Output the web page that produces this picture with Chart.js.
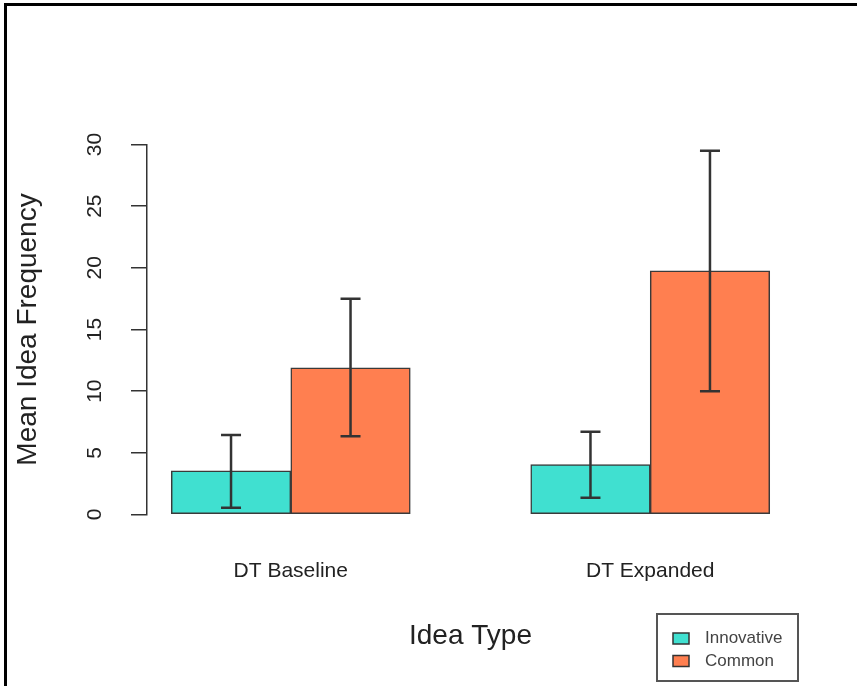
<!DOCTYPE html>
<html>
<head>
<meta charset="utf-8">
<title>Mean Idea Frequency</title>
<script src="https://cdn.jsdelivr.net/npm/chart.js@4.4.1/dist/chart.umd.min.js"></script>
<style>
  html, body { margin: 0; padding: 0; background: #fff; }
  #wrap { position: relative; width: 857px; height: 686px; overflow: hidden; }
  #frame { position: absolute; left: 4px; top: 3px; right: 0; bottom: 0;
           border-left: 3px solid #000; border-top: 3px solid #000; pointer-events: none; }
  canvas { position: absolute; left: 0; top: 0; }
</style>
</head>
<body>
<div id="wrap">
  <canvas id="chart" width="857" height="686"></canvas>
  <div id="frame"></div>
</div>
<script>
    // data
    var categories = ['DT Baseline', 'DT Expanded'];
    var seriesNames = ['Innovative', 'Common'];
    var innovative = [3.55, 4.05];
    var common = [11.9, 19.75];
    var innovativeLow = [0.55, 1.35];
    var innovativeHigh = [6.45, 6.7];
    var commonLow = [6.35, 10.0];
    var commonHigh = [17.5, 29.5];
    var yTicks = [0, 5, 10, 15, 20, 25, 30];

    var FONT = "'Liberation Sans', Arial, Helvetica, sans-serif";
    var colors = ['#40E0D0', '#FF7F50'];
    var errLow = [innovativeLow, commonLow];
    var errHigh = [innovativeHigh, commonHigh];

    function toPoints(values) {
        return values.map(function (v, i) { return { x: i, y: v }; });
    }

    // error bars drawn on top of the bars
    var errorBars = {
        id: 'errorBars',
        afterDatasetsDraw: function (chart) {
            var ctx = chart.ctx, yScale = chart.scales.y;
            ctx.save();
            ctx.strokeStyle = '#333';
            ctx.lineWidth = 2.5;
            chart.data.datasets.forEach(function (ds, di) {
                chart.getDatasetMeta(di).data.forEach(function (bar, i) {
                    var x = bar.x;
                    var y1 = yScale.getPixelForValue(errLow[di][i]);
                    var y2 = yScale.getPixelForValue(errHigh[di][i]);
                    ctx.beginPath();
                    ctx.moveTo(x, y1); ctx.lineTo(x, y2);
                    ctx.moveTo(x - 10, y1); ctx.lineTo(x + 10, y1);
                    ctx.moveTo(x - 10, y2); ctx.lineTo(x + 10, y2);
                    ctx.stroke();
                });
            });
            ctx.restore();
        }
    };

    // R style y tick labels, parallel to the axis
    var rotatedTicks = {
        id: 'rotatedTicks',
        afterDraw: function (chart) {
            var ctx = chart.ctx, y = chart.scales.y;
            ctx.save();
            ctx.font = '21px ' + FONT;
            ctx.fillStyle = '#222';
            ctx.textAlign = 'center';
            ctx.textBaseline = 'middle';
            y.ticks.forEach(function (t) {
                ctx.save();
                ctx.translate(y.right - 52, y.getPixelForValue(t.value));
                ctx.rotate(-Math.PI / 2);
                ctx.fillText(String(t.value), 0, 0);
                ctx.restore();
            });
            ctx.restore();
        }
    };

    // boxed legend at the bottom right
    var boxLegend = {
        id: 'boxLegend',
        afterDraw: function (chart) {
            var ctx = chart.ctx;
            var box = { left: 657, top: 614, width: 141, height: 67 };
            var rows = [638.5, 661];
            ctx.save();
            ctx.strokeStyle = '#555';
            ctx.lineWidth = 2;
            ctx.strokeRect(box.left, box.top, box.width, box.height);
            ctx.font = '17px ' + FONT;
            ctx.textBaseline = 'middle';
            ctx.textAlign = 'left';
            seriesNames.forEach(function (name, i) {
                ctx.fillStyle = colors[i];
                ctx.fillRect(box.left + 16, rows[i] - 5.5, 16, 11);
                ctx.strokeStyle = '#333';
                ctx.lineWidth = 1.5;
                ctx.strokeRect(box.left + 16, rows[i] - 5.5, 16, 11);
                ctx.fillStyle = '#444';
                ctx.fillText(name, box.left + 48, rows[i]);
            });
            ctx.restore();
        }
    };

    new Chart(document.getElementById('chart').getContext('2d'), {
        type: 'bar',
        data: {
            datasets: [{
                label: seriesNames[0],
                data: toPoints(innovative),
                backgroundColor: colors[0]
            }, {
                label: seriesNames[1],
                data: toPoints(common),
                backgroundColor: colors[1]
            }]
        },
        options: {
            responsive: false,
            animation: false,
            events: [],
            layout: { padding: { top: 144.5, right: 63, bottom: 0, left: 0 } },
            datasets: {
                bar: {
                    barThickness: 119.5,
                    borderColor: '#3a3a3a',
                    borderWidth: 1.5,
                    borderSkipped: false
                }
            },
            plugins: {
                legend: { display: false },
                tooltip: { enabled: false }
            },
            scales: {
                x: {
                    type: 'linear',
                    offset: false,
                    min: -0.4,
                    max: 1.4,
                    afterBuildTicks: function (s) {
                        s.ticks = categories.map(function (_, i) { return { value: i }; });
                    },
                    ticks: {
                        callback: function (v) { return categories[v]; },
                        font: { family: FONT, size: 21 },
                        color: '#222',
                        padding: 44,
                        autoSkip: false,
                        maxRotation: 0
                    },
                    grid: { display: false, drawTicks: false },
                    border: { display: false },
                    title: {
                        display: true,
                        text: 'Idea Type',
                        font: { family: FONT, size: 28 },
                        color: '#222',
                        padding: { top: 0, bottom: 33 }
                    },
                    afterFit: function (s) { s.height = 171.5; }
                },
                y: {
                    min: 0,
                    max: 30,
                    afterBuildTicks: function (s) {
                        s.ticks = yTicks.map(function (v) { return { value: v }; });
                    },
                    ticks: { display: false },
                    grid: { drawOnChartArea: false, drawTicks: true, tickLength: 16, color: '#333', lineWidth: 1.5 },
                    border: { display: true, color: '#333', width: 1.5 },
                    title: {
                        display: true,
                        text: 'Mean Idea Frequency',
                        font: { family: FONT, size: 28 },
                        color: '#222',
                        padding: { top: 11, bottom: 0 }
                    },
                    afterFit: function (s) { s.width = 147; }
                }
            }
        },
        plugins: [errorBars, rotatedTicks, boxLegend]
    });
</script>
</body>
</html>
